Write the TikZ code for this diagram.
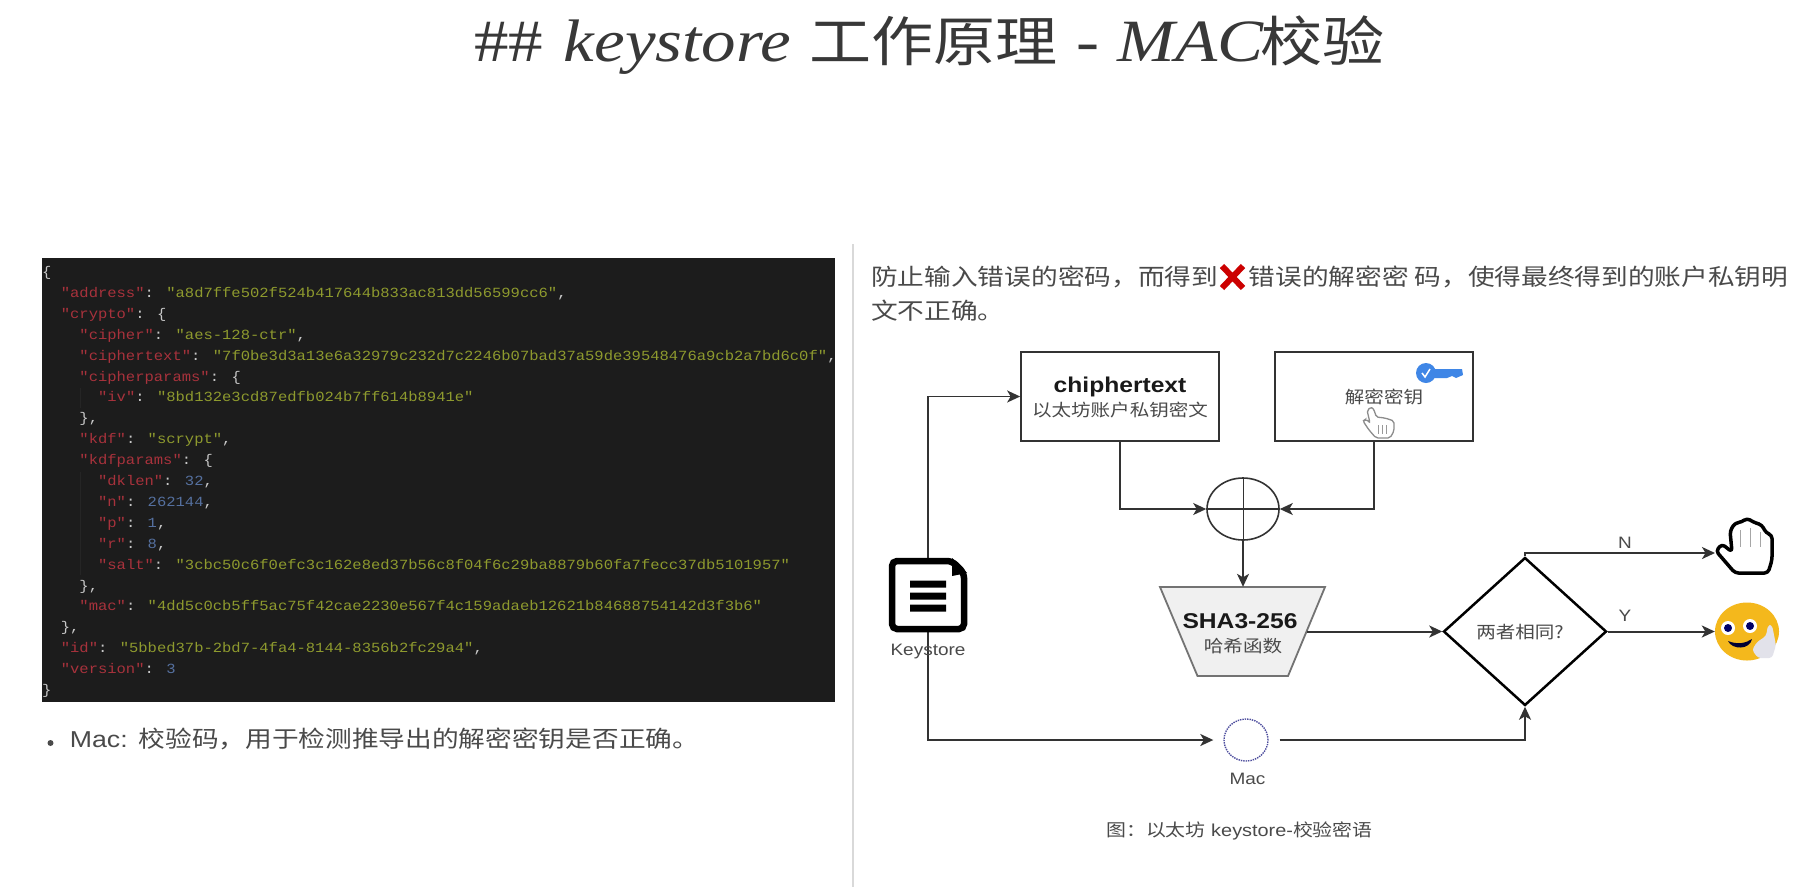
\documentclass[tikz,border=0pt]{standalone}
\usepackage{fontspec}
\setmainfont{Liberation Sans}
\newfontfamily\cjk{Noto Sans CJK SC}
\newfontfamily\jm{Liberation Mono}
\newfontfamily\ttl{Liberation Serif}
\usetikzlibrary{arrows.meta,shapes.geometric}
\definecolor{lnc}{HTML}{333333}
\definecolor{txc}{HTML}{4A4A4A}
\definecolor{codebg}{HTML}{1C1C1C}
\definecolor{jred}{HTML}{A8323C}
\definecolor{jolv}{HTML}{8E9A2E}
\definecolor{jblu}{HTML}{55709F}
\definecolor{jpun}{HTML}{C8C8C8}
\definecolor{keyb}{HTML}{3F86E6}
\definecolor{smy}{HTML}{F4B81C}
\definecolor{fingr}{HTML}{E2E2EA}
\newcommand\fwcomma{\char"FF0C\relax}
\newcommand\fwcolon{\char"FF1A\relax}
\newcommand\jsonK[1]{\textcolor{jred}{#1}}
\newcommand\jsonS[1]{\textcolor{jolv}{#1}}
\newcommand\jsonN[1]{\textcolor{jblu}{#1}}
\newcommand\jline[3]{\node[jlinestyle] (j#1) at ({42+9.31*#2},{276.5+20.9*(#1-1)}) {#3};}
\tikzset{
  jlinestyle/.style={anchor=base west,inner sep=0pt,text=jpun,xscale=1.108,font=\fontsize{14}{17}\selectfont\jm},
  para/.style={anchor=west,inner sep=0pt,text=txc,xscale=1.16,font=\fontsize{23}{28}\selectfont\cjk},
  small/.style={inner sep=0pt,text=txc,xscale=1.15,font=\fontsize{17}{20}\selectfont},
  lbl/.style={inner sep=0pt,text=txc,xscale=1.15,font=\fontsize{16.5}{20}\selectfont},
  boldt/.style={inner sep=0pt,text=black!90,xscale=1.15,font=\fontsize{21.4}{25}\selectfont\bfseries},
  boxn/.style={draw=lnc,line width=2.2pt,minimum width=197.5pt,minimum height=89pt,inner sep=0pt,fill=white},
  conn/.style={draw=lnc,line width=2pt},
  arr/.style={conn,-{Stealth[length=13pt,width=12pt,inset=3.5pt]}},
}
\begin{document}
\begin{tikzpicture}[x=1pt,y=-1pt]
\useasboundingbox (0,0) rectangle (1806,887);
\fill[white] (0,0) rectangle (1806,887);
% title
\node[anchor=base west,inner sep=0pt,text=black!78,xscale=1.15,font=\fontsize{60}{62}\selectfont\ttl] (title) at (474,61)
  {\#\#\hspace{3pt} \textit{keystore}\hspace{1pt} {\fontsize{54}{60}\selectfont\cjk 工作原理}\hspace{1pt} -\hspace{1pt} \textit{MAC}\hspace{-3.5pt}{\fontsize{54}{60}\selectfont\cjk 校验}};
% divider
\draw[line width=2pt,draw=black!15] (853,244) -- (853,887);
% code panel
\fill[codebg] (41.7,258) rectangle (835,701.5);
\draw[line width=1pt,draw=black!55!codebg!90] (80.6,388) -- (80.6,408) (80.6,472) -- (80.6,575);
\jline{1}{0}{\{}
\jline{2}{2}{\jsonK{"address"}: \jsonS{"a8d7ffe502f524b417644b833ac813dd56599cc6"},}
\jline{3}{2}{\jsonK{"crypto"}: \{}
\jline{4}{4}{\jsonK{"cipher"}: \jsonS{"aes-128-ctr"},}
\jline{5}{4}{\jsonK{"ciphertext"}: \jsonS{"7f0be3d3a13e6a32979c232d7c2246b07bad37a59de39548476a9cb2a7bd6c0f"},}
\jline{6}{4}{\jsonK{"cipherparams"}: \{}
\jline{7}{6}{\jsonK{"iv"}: \jsonS{"8bd132e3cd87edfb024b7ff614b8941e"}}
\jline{8}{4}{\},}
\jline{9}{4}{\jsonK{"kdf"}: \jsonS{"scrypt"},}
\jline{10}{4}{\jsonK{"kdfparams"}: \{}
\jline{11}{6}{\jsonK{"dklen"}: \jsonN{32},}
\jline{12}{6}{\jsonK{"n"}: \jsonN{262144},}
\jline{13}{6}{\jsonK{"p"}: \jsonN{1},}
\jline{14}{6}{\jsonK{"r"}: \jsonN{8},}
\jline{15}{6}{\jsonK{"salt"}: \jsonS{"3cbc50c6f0efc3c162e8ed37b56c8f04f6c29ba8879b60fa7fecc37db5101957"}}
\jline{16}{4}{\},}
\jline{17}{4}{\jsonK{"mac"}: \jsonS{"4dd5c0cb5ff5ac75f42cae2230e567f4c159adaeb12621b84688754142d3f3b6"}}
\jline{18}{2}{\},}
\jline{19}{2}{\jsonK{"id"}: \jsonS{"5bbed37b-2bd7-4fa4-8144-8356b2fc29a4"},}
\jline{20}{2}{\jsonK{"version"}: \jsonN{3}}
\jline{21}{0}{\}}
% bullet
\fill[txc] (50.5,743) circle (3pt);
\node[para] (mac1) at (69.7,739) {{\fontspec{Liberation Sans}Mac: }\hspace{1pt}校验码\fwcomma 用于检测推导出的解密密钥是否正确。};
% right text
\node[para] (p1a) at (871,277) {防止输入错误的密码\fwcomma 而得到};
\draw[line width=6pt,draw=red!80!black] (1222,266) -- (1243,288) (1243,266) -- (1222,288);
\node[para] (p1b) at (1248.7,277) {错误的解密密};
\node[para] (p1c) at (1414.5,277) {码\fwcomma 使得最终得到的账户私钥明};
\node[para] (p2) at (871,311) {文不正确。};
% boxes
\node[boxn] (box1) at (1120,396.5) {};
\node[boxn] (box2) at (1374,396.5) {};
\node[boldt] (t1) at (1120,387) {chiphertext};
\node[small,font=\fontsize{17}{20}\selectfont\cjk] (t2) at (1120,410) {以太坊账户私钥密文};
\node[small,font=\fontsize{17}{20}\selectfont\cjk] (t3) at (1384,397) {解密密钥};
% key icon
\fill[keyb] (1426,373) circle (10pt);
\fill[keyb] (1432,369) -- (1462,369) -- (1463,375) -- (1456,378) -- (1452,376) -- (1447,378) -- (1440,378) -- (1432,378) -- cycle;
\draw[white,line width=1.5pt] (1422,373) -- (1425,377) -- (1430,369);
% pointer hand
\draw[draw=black!45,fill=white,line width=1.3pt,rounded corners=2pt] (1367,410) -- (1372,407) -- (1375,412) -- (1376,417) -- (1385,418) -- (1394,421) -- (1394,431) -- (1390,438) -- (1376,438) -- (1369,430) -- (1363,421) -- (1366,419) -- (1370,423) -- cycle;
\draw[draw=black!40,line width=1pt] (1378,425) -- (1378,434) (1382,425) -- (1382,434) (1386,425) -- (1386,434);
% xor
\node[ellipse,draw=lnc,line width=1.6pt,minimum width=72pt,minimum height=62pt,inner sep=0pt] (xor) at (1243,509) {};
\draw[conn,line width=1pt] (xor.north) -- (xor.south);
\draw[conn] (xor.west) -- (xor.east);
\draw[arr,line width=1.6pt] (box1.south) |- (xor.west);
\draw[arr,line width=1.6pt] (box2.south) |- (xor.east);
% hash
\node[inner sep=0pt,minimum width=127pt,minimum height=89pt] (sha) at (1243,631.5) {};
\draw[draw=black!55,fill=black!6,line width=1.8pt] (1160,587) -- (1325,587) -- (1288,676) -- (1197.5,676) -- cycle;
\node[boldt] (t4) at (1240,621) {SHA3-256};
\node[small,font=\fontsize{17}{20}\selectfont\cjk] (t5) at (1243,646) {哈希函数};
\draw[arr,line width=1.2pt] (xor.south) -- (sha.north);
% diamond
\node[diamond,aspect=1.1,draw=black,line width=2.5pt,minimum width=163pt,minimum height=148pt,inner sep=0pt] (dia) at (1525,631.5) {};
\node[lbl,font=\fontsize{17}{20}\selectfont\cjk] (t6) at (1520,632) {两者相同?};
\draw[arr] (sha.east) -- (dia.west);
% hand stop
\coordinate (handw) at (1715,553);
\draw[draw=black,fill=white,line width=3.5pt,rounded corners=3.5pt,line join=round] (1716,551) -- (1722,544) -- (1732,552) -- (1730,531) -- (1735,523) -- (1742,522) -- (1747,518) -- (1753,522) -- (1762,525) -- (1766,533) -- (1772,535) -- (1772,560) -- (1768,573) -- (1735,573) -- cycle;
\draw[draw=black!35,line width=1pt] (1740,530) -- (1740,547) (1750,528) -- (1750,547) (1760,532) -- (1760,547);
\draw[arr] (dia.north) |- (handw);
\node[lbl] (nn) at (1625,543) {N};
% smile
\node[ellipse,fill=smy,minimum width=64pt,minimum height=58pt,inner sep=0pt] (smile) at (1747,631.5) {};
\fill[white] (1728,628) circle (7pt) (1750,626) circle (7pt);
\fill[blue!40!black] (1728,628) circle (4pt) (1750,626) circle (4pt);
\fill[blue!20!black] (1728,641) .. controls (1738,645) and (1746,643) .. (1752,639) .. controls (1750,650) and (1732,650) .. (1728,641) -- cycle;
\fill[fingr,rounded corners=3pt] (1752,650) -- (1757,642) -- (1766,636) -- (1768,625) -- (1772,625) -- (1776,645) -- (1772,658) -- (1758,658) -- cycle;
\draw[arr] (dia.east) -- (smile.west);
\node[lbl] (yy) at (1625,616) {Y};
% mac node
\node[ellipse,draw=blue!45!black!70!white,densely dotted,line width=1.4pt,fill=white,minimum width=44pt,minimum height=42pt,inner sep=0pt] (macn) at (1246,740) {};
\node[lbl] (macl) at (1247.5,779) {Mac};
% keystore icon
\node[inner sep=0pt,minimum width=78pt,minimum height=74pt] (ksi) at (928,595) {};
\draw[arr,line width=1.6pt] (ksi.north) |- (box1.west);
\draw[arr,shorten >=10pt] (ksi.south) |- (macn.west);
\draw[arr,shorten <=11pt] (macn.east) -| (dia.south);
\draw[draw=black,fill=white,line width=6.5pt,rounded corners=5pt] (892,561) -- (952,561) -- (964,573) -- (964,629) -- (892,629) -- cycle;
\fill[black] (952,558) -- (967,573) -- (952,576) -- cycle;
\fill[black] (910,580.5) rectangle (946,587.5) (910,592.5) rectangle (946,599.5) (910,604.5) rectangle (946,611.5);
\node[lbl] (ksl) at (928,652) {Keystore};
% caption
\node[lbl,anchor=west,font=\fontsize{17.3}{20}\selectfont] (cap) at (1106,831) {{\cjk 图\fwcolon 以太坊} keystore-{\cjk 校验密语}};
\end{tikzpicture}
\end{document}
